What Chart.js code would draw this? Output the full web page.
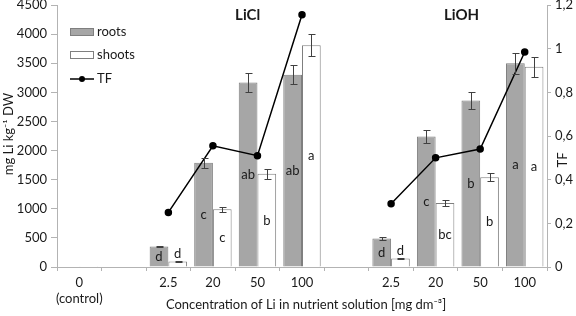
<!DOCTYPE html>
<html>
<head>
<meta charset="utf-8">
<script src="https://cdn.jsdelivr.net/npm/chart.js@4/dist/chart.umd.min.js"></script>
<style>
html,body{margin:0;padding:0;background:#fff;}
#wrap{width:576px;height:316px;position:relative;}
</style>
</head>
<body>
<div id="wrap"><canvas id="c" width="576" height="316"></canvas></div>
<script>
const categories = [["0","(control)"], "", "2.5", "20", "50", "100", "", "2.5", "20", "50", "100"];
const roots      = [10, null, 350, 1790, 3170, 3300, null, 490, 2240, 2860, 3500];
const rootsErr   = [0, null, 12, 90, 160, 165, null, 20, 110, 140, 180];
const shoots     = [3, null, 95, 990, 1600, 3810, null, 145, 1100, 1540, 3440];
const shootsErr  = [0, null, 8, 45, 85, 190, null, 8, 50, 70, 175];
const tf         = [null, null, 0.25, 0.555, 0.51, 1.155, null, 0.29, 0.50, 0.54, 0.985];
const rootsLetters  = ["", "", "d", "c", "ab", "ab", "", "d", "c", "b", "a"];
const shootsLetters = ["", "", "d", "c", "b", "a", "", "d", "bc", "b", "a"];
const groupTitles = ["LiCl", "LiOH"];
const groupTitlePos = [3.78, 8.58];
const yTicks = [0, 500, 1000, 1500, 2000, 2500, 3000, 3500, 4000, 4500];
const y1Ticks = [0, 0.2, 0.4, 0.6, 0.8, 1, 1.2];
const xTitle = "Concentration of Li in nutrient solution [mg dm\u207B\u00B3]";
const yTitle = "mg Li kg\u207B\u00B9 DW";
const y1Title = "TF";

const FONT = "Lato, 'Open Sans', sans-serif";
const AXIS = "#b3b3b3";
const TXT = "#1a1a1a";

const errorBars = {
  id: "errorBars",
  afterDatasetsDraw(chart) {
    const ctx = chart.ctx, y = chart.scales.y;
    const errs = [rootsErr, shootsErr];
    ctx.save();
    ctx.strokeStyle = "#404040";
    ctx.lineWidth = 1;
    [0, 1].forEach(di => {
      const meta = chart.getDatasetMeta(di);
      const vals = chart.data.datasets[di].data;
      meta.data.forEach((bar, i) => {
        const e = errs[di][i];
        if (vals[i] == null || !e) return;
        const x = Math.round(bar.x) + 0.5;
        const t = Math.round(y.getPixelForValue(vals[i] + e)) + 0.5;
        const b = Math.round(y.getPixelForValue(vals[i] - e)) + 0.5;
        ctx.beginPath();
        ctx.moveTo(x, t); ctx.lineTo(x, b);
        ctx.moveTo(x - 3, t); ctx.lineTo(x + 4, t);
        ctx.moveTo(x - 3, b); ctx.lineTo(x + 4, b);
        ctx.stroke();
      });
    });
    ctx.restore();
  }
};

const letters = {
  id: "letters",
  afterDatasetsDraw(chart) {
    const ctx = chart.ctx, y = chart.scales.y;
    const lets = [rootsLetters, shootsLetters];
    ctx.save();
    ctx.font = "13px " + FONT;
    ctx.fillStyle = TXT;
    ctx.textAlign = "center";
    ctx.textBaseline = "middle";
    [0, 1].forEach(di => {
      const meta = chart.getDatasetMeta(di);
      const vals = chart.data.datasets[di].data;
      meta.data.forEach((bar, i) => {
        const L = lets[di][i];
        if (!L || vals[i] == null) return;
        const top = y.getPixelForValue(vals[i]);
        const base = y.getPixelForValue(0);
        let cy = (top + base) / 2;
        if (base - top < 14) cy = top - 8;
        ctx.fillText(L, bar.x, cy);
      });
    });
    ctx.restore();
  }
};

const extras = {
  id: "extras",
  afterDraw(chart) {
    const ctx = chart.ctx, x = chart.scales.x, a = chart.chartArea;
    ctx.save();
    ctx.fillStyle = TXT;
    ctx.font = "bold 15px " + FONT;
    ctx.textAlign = "center";
    ctx.textBaseline = "middle";
    groupTitles.forEach((t, i) => ctx.fillText(t, x.getPixelForValue(groupTitlePos[i]), 15));
    // axis titles
    ctx.font = "13px " + FONT;
    ctx.fillText(xTitle, (a.left + a.right) / 2 + 4, 305);
    ctx.save(); ctx.translate(9, 134); ctx.rotate(-Math.PI / 2); ctx.fillText(yTitle, 0, 0); ctx.restore();
    ctx.save(); ctx.translate(563, 160); ctx.rotate(-Math.PI / 2); ctx.fillText(y1Title, 0, 0); ctx.restore();
    // legend
    ctx.textAlign = "left";
    ctx.lineWidth = 1;
    ctx.fillStyle = "#a6a6a6"; ctx.strokeStyle = "#7f7f7f";
    ctx.fillRect(70.5, 28.5, 23, 7); ctx.strokeRect(70.5, 28.5, 23, 7);
    ctx.fillStyle = "#ffffff";
    ctx.fillRect(70.5, 51.5, 23, 7); ctx.strokeRect(70.5, 51.5, 23, 7);
    ctx.strokeStyle = "#000"; ctx.lineWidth = 1.5;
    ctx.beginPath(); ctx.moveTo(70, 79); ctx.lineTo(94, 79); ctx.stroke();
    ctx.fillStyle = "#000";
    ctx.beginPath(); ctx.arc(82, 79, 3, 0, Math.PI * 2); ctx.fill();
    ctx.fillStyle = TXT;
    ctx.fillText("roots", 97, 32);
    ctx.fillText("shoots", 97, 55);
    ctx.fillText("TF", 97, 79);
    ctx.restore();
  }
};

function noPad(s) { s.paddingTop = 0; s.paddingBottom = 0; }

new Chart(document.getElementById("c"), {
  type: "bar",
  data: {
    labels: categories,
    datasets: [
      { label: "roots", data: roots, backgroundColor: "#a6a6a6", borderColor: "#7f7f7f", borderWidth: 1,
        barPercentage: 1, categoryPercentage: 0.84, yAxisID: "y", order: 2 },
      { label: "shoots", data: shoots, backgroundColor: "#ffffff", borderColor: "#7f7f7f", borderWidth: 1,
        barPercentage: 1, categoryPercentage: 0.84, yAxisID: "y", order: 2 },
      { type: "line", label: "TF", data: tf, borderColor: "#000", backgroundColor: "#000", borderWidth: 1.5,
        pointRadius: 3, pointHoverRadius: 3, spanGaps: false, yAxisID: "y1", order: 1, tension: 0 }
    ]
  },
  options: {
    responsive: false,
    animation: false,
    events: [],
    layout: { padding: { top: 5, bottom: 0, left: 0, right: 0 } },
    plugins: { legend: { display: false }, tooltip: { enabled: false } },
    scales: {
      x: {
        offset: true,
        grid: { display: true, drawOnChartArea: false, offset: true, color: AXIS, tickLength: 4 },
        border: { color: AXIS },
        ticks: { color: TXT, font: { family: FONT, size: 13 }, maxRotation: 0, autoSkip: false, padding: 4 },
        afterFit(s) { s.height = 49; s.paddingLeft = 0; s.paddingRight = 0; }
      },
      y: {
        position: "left",
        min: 0, max: 4500,
        afterBuildTicks(s) { s.ticks = yTicks.map(v => ({ value: v })); },
        grid: { drawOnChartArea: false, color: AXIS, tickLength: 6 },
        border: { color: AXIS },
        ticks: { color: TXT, font: { family: FONT, size: 13 }, padding: 4, callback: v => String(v) },
        afterFit(s) { s.width = 57; noPad(s); }
      },
      y1: {
        position: "right",
        min: 0, max: 1.2,
        afterBuildTicks(s) { s.ticks = y1Ticks.map(v => ({ value: v })); },
        grid: { drawOnChartArea: false, color: AXIS, tickLength: 4 },
        border: { color: AXIS },
        ticks: { color: TXT, font: { family: FONT, size: 13 }, padding: 4,
                 callback: v => String(Math.round(v * 10) / 10).replace(".", ",") },
        afterFit(s) { s.width = 29; noPad(s); }
      }
    }
  },
  plugins: [errorBars, letters, extras]
});
</script>
</body>
</html>
